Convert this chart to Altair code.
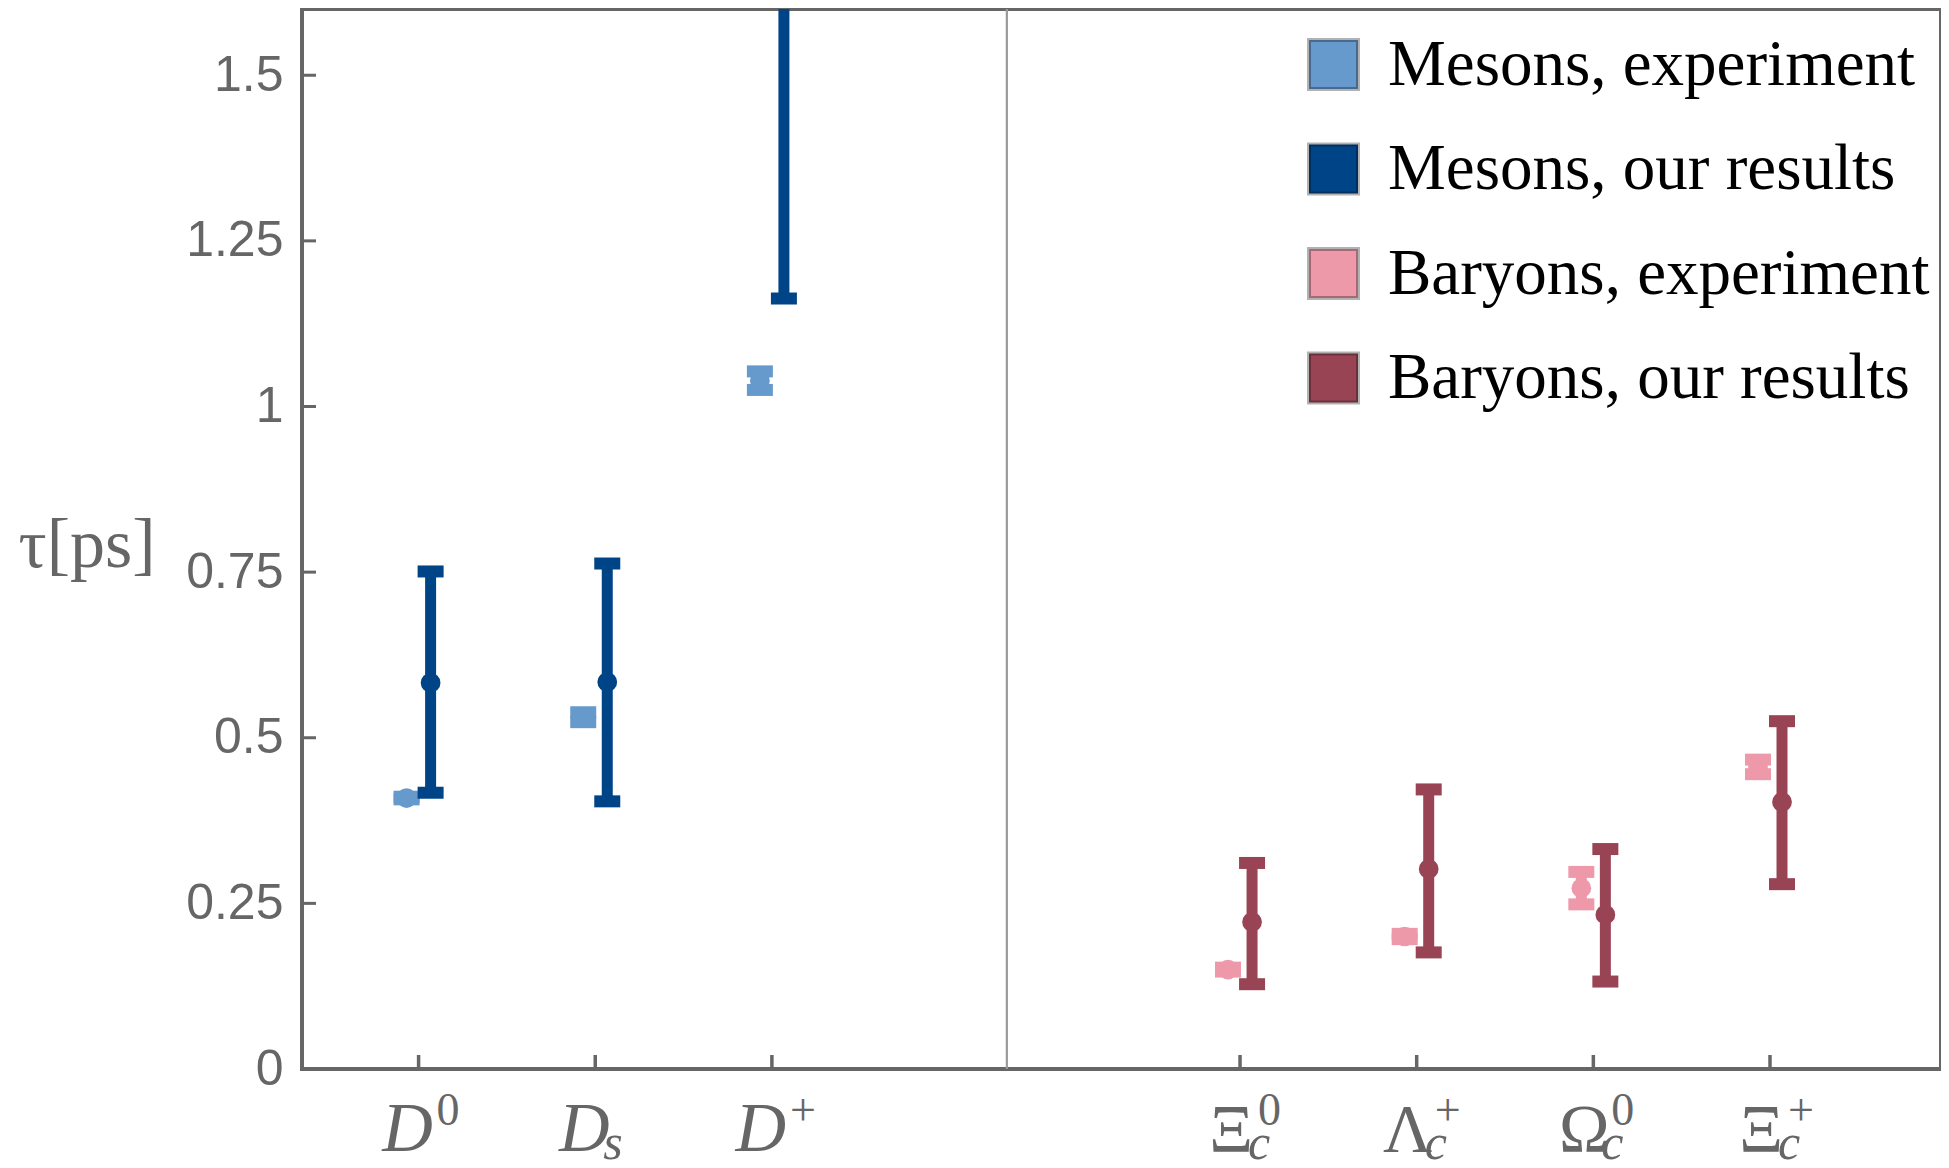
import altair as alt
import pandas as pd

# ---------------- data ----------------
label_base = ["D", "D", "D", "Ξ", "Λ", "Ω", "Ξ"]
label_italic = [True, True, True, False, False, False, False]
label_sup = ["0", "", "+", "0", "+", "0", "+"]
label_sub = ["", "s", "", "c", "c", "c", "c"]
cat_pos = [0, 1, 2, 4.65, 5.65, 6.65, 7.65]
separator_pos = [3.33]

meson_idx = [0, 1, 2]
baryon_idx = [3, 4, 5, 6]

meson_exp_val = [0.409, 0.531, 1.039]
meson_exp_err = [0.002, 0.0075, 0.014]
meson_res_val = [0.583, 0.584, 1.75]
meson_res_lo = [0.417, 0.404, 1.163]
meson_res_hi = [0.751, 0.763, 2.30]

baryon_exp_val = [0.150, 0.200, 0.273, 0.456]
baryon_exp_err = [0.003, 0.004, 0.0245, 0.011]
baryon_res_val = [0.222, 0.302, 0.233, 0.403]
baryon_res_lo = [0.128, 0.176, 0.132, 0.279]
baryon_res_hi = [0.311, 0.422, 0.332, 0.525]

series_names = ["Mesons, experiment", "Mesons, our results",
                "Baryons, experiment", "Baryons, our results"]
series_colors = ["#6699CC", "#004488", "#EE99AA", "#994455"]
y_tick_values = [0, 0.25, 0.5, 0.75, 1, 1.25, 1.5]

# ---------------- tables ----------------
rows = []
for k, i in enumerate(meson_idx):
    v, e = meson_exp_val[k], meson_exp_err[k]
    rows.append(dict(pos=cat_pos[i], kind="exp", series=series_names[0],
                     value=v, lower=v - e, upper=v + e))
for k, i in enumerate(baryon_idx):
    v, e = baryon_exp_val[k], baryon_exp_err[k]
    rows.append(dict(pos=cat_pos[i], kind="exp", series=series_names[2],
                     value=v, lower=v - e, upper=v + e))
for k, i in enumerate(meson_idx):
    rows.append(dict(pos=cat_pos[i], kind="ours", series=series_names[1],
                     value=meson_res_val[k], lower=meson_res_lo[k], upper=meson_res_hi[k]))
for k, i in enumerate(baryon_idx):
    rows.append(dict(pos=cat_pos[i], kind="ours", series=series_names[3],
                     value=baryon_res_val[k], lower=baryon_res_lo[k], upper=baryon_res_hi[k]))
df = pd.DataFrame(rows)

labels_df = pd.DataFrame(dict(pos=cat_pos, base=label_base, italic=label_italic,
                              sup=label_sup, sub=label_sub))
yticks_df = pd.DataFrame(dict(v=y_tick_values))
sep_df = pd.DataFrame(dict(pos=separator_pos))

W, H = 1639, 1060
GREY = "#666666"

xscale = alt.Scale(domain=[-0.66, 8.618], nice=False, zero=False)
yscale = alt.Scale(domain=[0, 1.6], nice=False, zero=False)
yaxis = alt.Axis(values=y_tick_values, labelExpr="'' + datum.value",
                 ticks=False, tickSize=0, domain=False, grid=False,
                 labelFont="Liberation Sans", labelFontSize=50, labelColor=GREY,
                 labelPadding=19,
                 title="τ[ps]", titleAngle=0, titleFont="Liberation Serif",
                 titleFontSize=70, titleFontWeight="normal", titleColor=GREY,
                 titleAlign="left", titleBaseline="alphabetic",
                 titleX=-284, titleY=557)
legend = alt.Legend(orient="none", legendX=999, legendY=23, title=None,
                    symbolType="square", symbolSize=2400,
                    symbolStrokeColor="rgba(0,0,0,0.3)", symbolStrokeWidth=4,
                    symbolOpacity=1,
                    labelFont="Liberation Serif", labelFontSize=65,
                    labelColor="black", labelOffset=22, rowPadding=38.5,
                    padding=0, labelLimit=1000)
color = alt.Color("series:N", scale=alt.Scale(domain=series_names, range=series_colors),
                  legend=legend)

base = alt.Chart(df).transform_calculate(
    xp="datum.pos + (datum.kind == 'ours' ? 0.068 : -0.068)"
)
X = alt.X("xp:Q", scale=xscale, axis=None)


def series_layers(si):
    b = base.transform_filter(alt.datum.series == series_names[si])
    col = series_colors[si]
    bars = b.mark_rule(strokeWidth=11, clip=True, color=col).encode(
        x=X, y=alt.Y("lower:Q", scale=yscale, axis=yaxis), y2="upper:Q")
    caps = b.transform_fold(["lower", "upper"], as_=["end", "yv"]).mark_tick(
        orient="horizontal", size=26, thickness=12, opacity=1, clip=True, color=col).encode(
        x=X, y=alt.Y("yv:Q", scale=yscale, axis=yaxis))
    dots = b.mark_circle(size=390, opacity=1, clip=True).encode(
        x=X, y=alt.Y("value:Q", scale=yscale, axis=yaxis), color=color)
    return [bars, caps, dots]


sep = alt.Chart(sep_df).mark_rule(color="#9a9a9a", strokeWidth=2.2).encode(
    x=alt.X("pos:Q", scale=xscale, axis=None))

ytick_rules = alt.Chart(yticks_df).mark_rule(color=GREY, strokeWidth=3).encode(
    y=alt.Y("v:Q", scale=yscale, axis=yaxis), x=alt.value(0), x2=alt.value(14))

xtick_rules = alt.Chart(labels_df).mark_rule(color=GREY, strokeWidth=3.5).encode(
    x=alt.X("pos:Q", scale=xscale, axis=None), y=alt.value(H), y2=alt.value(H - 14))

lab = alt.Chart(labels_df)
base_it = lab.transform_filter(alt.datum.italic == True).mark_text(
    font="Liberation Serif", fontSize=70, fontStyle="italic", color=GREY,
    align="center", baseline="alphabetic", dx=-11).encode(
    x=alt.X("pos:Q", scale=xscale, axis=None), y=alt.value(H + 82), text="base:N")
base_up = lab.transform_filter(alt.datum.italic == False).mark_text(
    font="Liberation Serif", fontSize=68, color=GREY,
    align="center", baseline="alphabetic", dx=-9).encode(
    x=alt.X("pos:Q", scale=xscale, axis=None), y=alt.value(H + 82), text="base:N")
sup = lab.mark_text(
    font="Liberation Serif", fontSize=46, color=GREY,
    align="left", baseline="alphabetic", dx=18).encode(
    x=alt.X("pos:Q", scale=xscale, axis=None), y=alt.value(H + 56), text="sup:N")
sub = lab.mark_text(
    font="Liberation Serif", fontSize=50, fontStyle="italic", color=GREY,
    align="left", baseline="alphabetic", dx=8).encode(
    x=alt.X("pos:Q", scale=xscale, axis=None), y=alt.value(H + 90), text="sub:N")

layers = [sep, ytick_rules, xtick_rules]
for si in [0, 2, 1, 3]:
    layers += series_layers(si)
layers += [base_it, base_up, sup, sub]

chart = alt.layer(*layers).properties(
    width=W, height=H, autosize="none", background="white",
    padding={"left": 294, "top": 1, "right": 0, "bottom": 91},
).configure_view(stroke=GREY, strokeWidth=4)

chart.save("out.html", embed_options={"renderer": "svg", "actions": False})
